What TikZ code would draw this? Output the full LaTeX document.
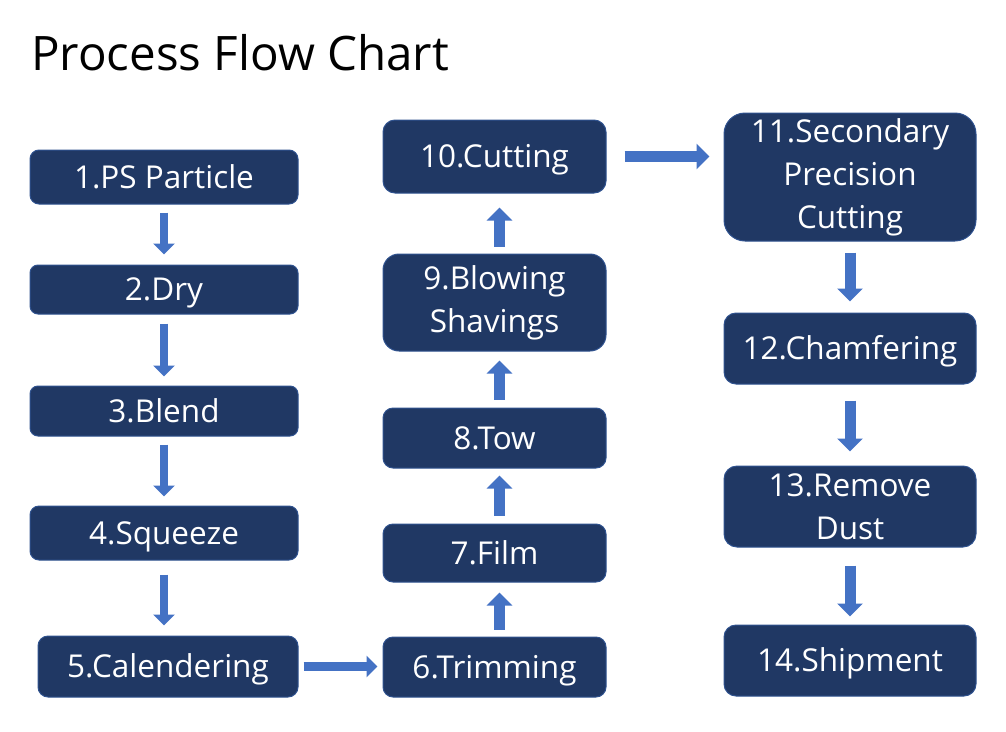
\documentclass[tikz,border=0pt]{standalone}
\usepackage{fontspec}
\setmainfont{Open Sans}
\usetikzlibrary{arrows.meta}
\definecolor{boxfill}{HTML}{203864}
\definecolor{boxline}{HTML}{2F528F}
\definecolor{arrowfill}{HTML}{4472C4}
\begin{document}
\begin{tikzpicture}[x=1pt,y=-1pt,
  stepbox/.style={draw=boxline, line width=1pt, fill=boxfill, text=white,
    font=\fontsize{31.5}{43}\selectfont, align=center, inner sep=0pt},
  oneline/.style={text height=30.5pt, text depth=8pt},
  flowthin/.style={draw=arrowfill, line width=8.5pt, -{Triangle[width=21pt,length=11pt]}},
  flowthick/.style={draw=arrowfill, line width=11pt, -{Triangle[width=25pt,length=13pt]}}]
\useasboundingbox (0,0) rectangle (1006,731);
\node[anchor=base west, inner sep=0pt, font=\fontsize{47.5}{57}\selectfont] (title) at (31,70) {Process Flow Chart};
% column 1
\node[stepbox, oneline, rounded corners=9pt, minimum width=268pt, minimum height=54pt] (b1) at (164,177) {1.PS Particle};
\node[stepbox, oneline, rounded corners=8pt, minimum width=268pt, minimum height=49pt] (b2) at (164,289.5) {2.Dry};
\node[stepbox, oneline, rounded corners=8pt, minimum width=268pt, minimum height=50pt] (b3) at (164,411) {3.Blend};
\node[stepbox, oneline, rounded corners=9pt, minimum width=268pt, minimum height=54pt] (b4) at (164,533) {4.Squeeze};
\node[stepbox, oneline, rounded corners=10pt, minimum width=260pt, minimum height=61pt] (b5) at (168,666.5) {5.Calendering};
% column 2
\node[stepbox, oneline, rounded corners=10pt, minimum width=223pt, minimum height=60pt] (b6) at (494.5,667) {6.Trimming};
\node[stepbox, oneline, rounded corners=10pt, minimum width=223pt, minimum height=58pt] (b7) at (494.5,553) {7.Film};
\node[stepbox, oneline, rounded corners=10pt, minimum width=223pt, minimum height=60pt] (b8) at (494.5,438) {8.Tow};
\node[stepbox, rounded corners=16pt, minimum width=223pt, minimum height=97pt] (b9) at (494.5,302.5) {9.Blowing\\Shavings};
\node[stepbox, oneline, rounded corners=12pt, minimum width=223pt, minimum height=73pt] (b10) at (494.5,156.5) {10.Cutting};
% column 3
\node[stepbox, rounded corners=21pt, minimum width=252pt, minimum height=128pt] (b11) at (850,177) {11.Secondary\\Precision\\Cutting};
\node[stepbox, oneline, rounded corners=12pt, minimum width=252pt, minimum height=71pt] (b12) at (850,348.5) {12.Chamfering};
\node[stepbox, rounded corners=13pt, minimum width=252pt, minimum height=81pt] (b13) at (850,506.5) {13.Remove\\Dust};
\node[stepbox, oneline, rounded corners=12pt, minimum width=252pt, minimum height=71pt] (b14) at (850,660.5) {14.Shipment};
% arrows column 1
\draw[flowthin, shorten <=8pt, shorten >=10pt] (b1) -- (b2);
\draw[flowthin, shorten <=9pt, shorten >=9pt] (b2) -- (b3);
\draw[flowthin, shorten <=8pt, shorten >=9pt] (b3) -- (b4);
\draw[flowthin, shorten <=14pt, shorten >=10pt] (b4.south) -- (b4.south |- b5.north);
\draw[flowthin, shorten <=5pt, shorten >=5pt] (b5.east) -- (b5.east -| b6.west);
% arrows column 2
\draw[flowthick, shorten <=7pt, shorten >=10pt] ([xshift=5pt]b6.north) -- ([xshift=5pt]b7.south);
\draw[flowthick, shorten <=8pt, shorten >=7pt] ([xshift=5pt]b7.north) -- ([xshift=5pt]b8.south);
\draw[flowthick, shorten <=8pt, shorten >=9pt] ([xshift=5pt]b8.north) -- ([xshift=5pt]b9.south);
\draw[flowthick, shorten <=7pt, shorten >=14pt] ([xshift=5pt]b9.north) -- ([xshift=5pt]b10.south);
\draw[flowthick, shorten <=18pt, shorten >=14pt] (b10.east) -- (b10.east -| b11.west);
% arrows column 3
\draw[flowthick, shorten <=11pt, shorten >=11pt] (b11) -- (b12);
\draw[flowthick, shorten <=16pt, shorten >=14pt] (b12) -- (b13);
\draw[flowthick, shorten <=18pt, shorten >=8pt] (b13) -- (b14);
\end{tikzpicture}
\end{document}
